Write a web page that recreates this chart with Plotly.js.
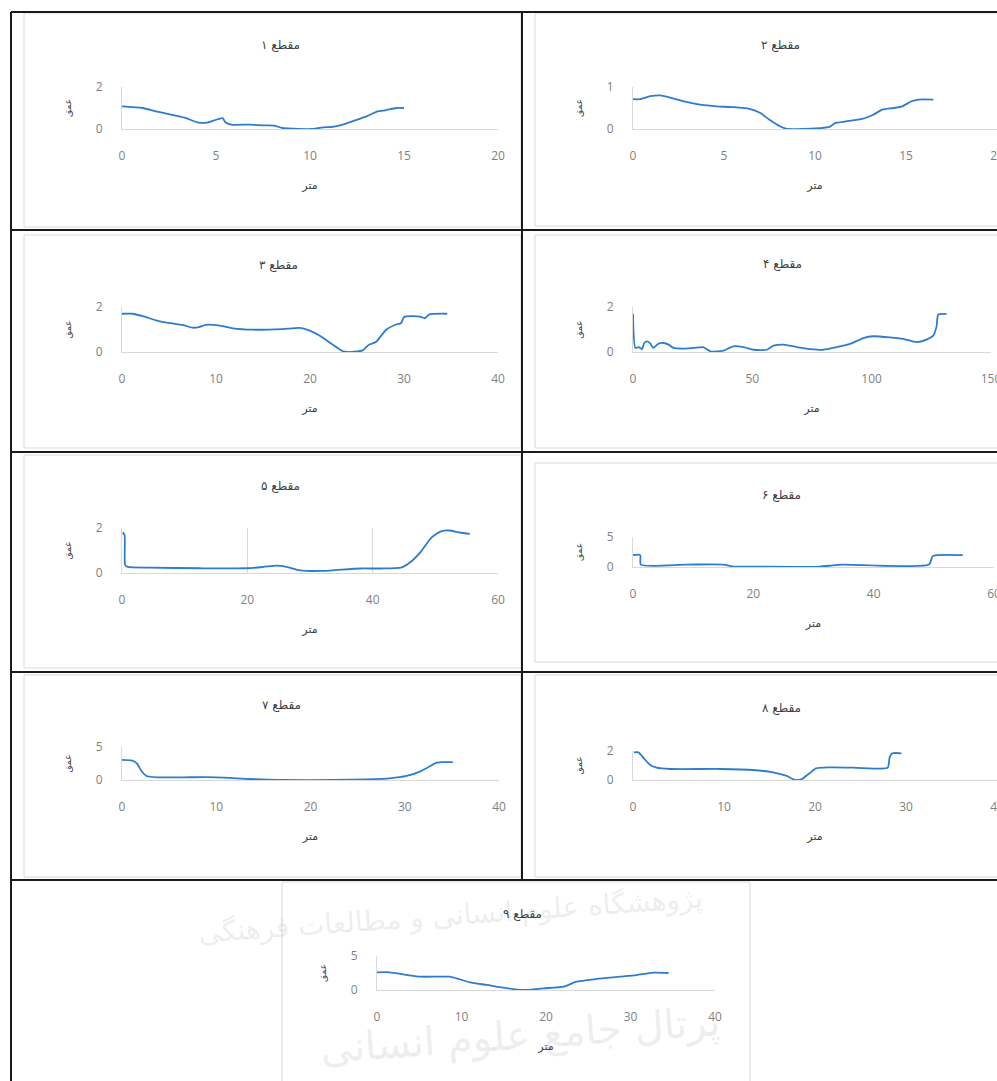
<!DOCTYPE html>
<html>
<head>
<meta charset="utf-8">
<script src="https://cdn.plot.ly/plotly-3.0.1.min.js"></script>
<style>html,body{margin:0;padding:0;background:#fff;}#chart{width:997px;height:1081px;}</style>
</head>
<body>
<div id="chart"></div>
<script>
// ---- Data (distance in متر, depth) ----
const titles = ['مقطع ۱','مقطع ۲','مقطع ۳','مقطع ۴','مقطع ۵','مقطع ۶','مقطع ۷','مقطع ۸','مقطع ۹'];
const xTitle = 'متر';
const yTitle = 'عمق';

const x1 = [0,1.1,1.8,2.9,3.4,4.0,4.5,4.9,5.35,5.5,5.8,6.8,7.65,8.1,8.5,9.4,10.1,10.7,11.2,11.7,12.4,13.0,13.6,14.0,14.6,15.0];
const y1 = [1.08,1.0,0.84,0.63,0.52,0.32,0.30,0.41,0.52,0.32,0.21,0.21,0.17,0.16,0.05,0.0,0.0,0.08,0.1,0.2,0.41,0.6,0.84,0.89,1.0,1.0];

const x2 = [0,0.4,0.95,1.5,1.95,2.8,3.7,4.6,5.5,6.4,7.0,7.5,8.1,8.4,9.35,10.25,10.8,11.1,11.7,12.6,13.2,13.7,14.3,14.8,15.3,15.7,16.5];
const y2 = [0.71,0.71,0.78,0.80,0.76,0.66,0.58,0.54,0.52,0.48,0.38,0.22,0.06,0.01,0.0,0.02,0.05,0.14,0.18,0.24,0.34,0.46,0.5,0.54,0.66,0.70,0.70];

const x3 = [0,1.1,2.2,3.6,5.0,6.5,7.5,8.2,8.9,10.4,11.8,13.9,17.1,18.9,19.9,21.0,22.4,23.5,24.0,24.7,25.6,26.3,27.0,28.1,29.1,29.7,30.0,30.9,31.8,32.2,32.7,34.6];
const y3 = [1.70,1.70,1.59,1.41,1.29,1.19,1.08,1.11,1.21,1.17,1.05,0.99,1.02,1.07,0.96,0.73,0.33,0.03,0.0,0.01,0.07,0.33,0.44,0.99,1.21,1.29,1.56,1.59,1.56,1.50,1.67,1.70];

const x4 = [0,1.0,2.4,3.8,4.7,5.9,7.3,8.4,9.3,10.7,12.8,14.9,17.0,21.2,25.4,29.6,32.4,37.9,42.1,46.3,50.5,56.1,58.9,63.0,68.6,74.2,79.8,85.4,90.9,96.5,100.7,107.7,113.2,118.8,123.0,125.8,127.2,127.9,131.4];
const y4 = [1.70,0.18,0.22,0.13,0.40,0.47,0.37,0.18,0.25,0.37,0.40,0.33,0.18,0.15,0.18,0.21,0.03,0.06,0.25,0.22,0.10,0.10,0.28,0.33,0.22,0.13,0.10,0.22,0.36,0.62,0.70,0.65,0.58,0.44,0.55,0.73,1.14,1.66,1.69];

const x5 = [0.1,0.4,0.5,0.9,4.4,12.4,19.9,22.6,24.7,26.3,28.4,31.7,34.9,38.1,41.3,44.5,46.1,47.7,49.3,50.9,52.2,53.9,55.5];
const y5 = [1.80,1.70,0.35,0.27,0.24,0.21,0.21,0.27,0.33,0.27,0.12,0.09,0.15,0.20,0.20,0.24,0.50,0.95,1.55,1.85,1.89,1.80,1.74];

const x6 = [0,1.2,1.3,8.9,15.0,16.7,20.0,31.0,33.2,34.9,49.2,49.8,50.6,54.8];
const y6 = [1.99,1.99,0.40,0.40,0.40,0.06,0.06,0.06,0.28,0.40,0.40,1.82,1.99,1.99];

const x7 = [0,1.0,1.55,2.1,2.6,3.7,6.5,10.0,13.6,17.1,22.4,25.9,28.4,30.2,31.6,32.6,33.4,34.1,35.1];
const y7 = [3.06,2.96,2.55,1.28,0.61,0.41,0.41,0.41,0.15,0.0,0.0,0.10,0.26,0.61,1.28,2.04,2.65,2.70,2.70];

const x8 = [0.1,0.6,1.2,1.9,2.6,4.1,9.6,13.2,15.4,16.9,17.8,18.5,19.4,20.1,21.6,24.2,27.1,28.0,28.2,28.5,29.5];
const y8 = [1.91,1.91,1.49,1.03,0.85,0.76,0.76,0.69,0.53,0.28,0.0,0.05,0.46,0.80,0.87,0.85,0.78,0.85,1.56,1.84,1.84];

const x9 = [0,1.5,3.1,5.1,8.6,9.4,11.0,13.0,14.9,17.3,19.7,22.1,23.6,26.0,28.8,30.7,32.7,34.5];
const y9 = [2.6,2.6,2.3,1.96,1.96,1.72,1.13,0.74,0.34,0.0,0.25,0.49,1.23,1.62,1.96,2.2,2.55,2.5];

const xs = [x1,x2,x3,x4,x5,x6,x7,x8,x9];
const ys = [y1,y2,y3,y4,y5,y6,y7,y8,y9];
const xRanges = [[0,20],[0,20],[0,40],[0,150],[0,60],[0,60],[0,40],[0,40],[0,40]];
const yRanges = [[0,2],[0,1],[0,2],[0,2],[0,2],[0,5],[0,5],[0,2],[0,5]];
const xDticks = [5,5,10,50,20,20,10,10,10];
const yDticks = [2,1,2,2,2,5,5,2,5];

// ---- Layout geometry (pixels) ----
const W = 997, H = 1081;
const px = v => v / W;
const py = v => 1 - v / H;
// plot areas: [left, right, top, bottom]
const boxes = [
  [122,498,87,129],[633,997,87,129],
  [122,498,307,352],[633,991,307,352],
  [122,498,528,573],[633,994,537,567],
  [122,499,747,780],[633,997,751,780],
  [377,715,956,990]
];
const titlePos = [[280,45],[780,45],[278,265],[782,264],[280,486],[781,495],[281,705],[781,708],[522,914]];
const frames = [
  [24,13,521,227],[535,13,1000,226],
  [24,235,521,448],[535,235,1000,448],
  [24,455,521,668],[535,463,1000,662],
  [24,675,521,877],[535,675,1000,877],
  [282,882,750,1090]
];

const grey = '#d9d9d9';
const tickFont = {family:'Open Sans, Liberation Sans, sans-serif', size:12, color:'#7f7f7f'};
const arFont = {family:'DejaVu Sans, sans-serif', size:11, color:'#404040'};

const data = [];
const layout = {
  width: W, height: H,
  margin: {l:0,r:0,t:0,b:0},
  paper_bgcolor:'#ffffff', plot_bgcolor:'rgba(0,0,0,0)',
  showlegend:false,
  shapes: [], annotations: []
};

// chart frames
frames.forEach(f => {
  layout.shapes.push({type:'rect', xref:'paper', yref:'paper', x0:px(f[0]), x1:px(f[2]), y0:py(f[3]), y1:py(f[1]),
    line:{color:grey, width:1}, fillcolor:'rgba(0,0,0,0)', layer:'below'});
});

// table borders
const hLines = [12,230,452,672,880];
hLines.forEach(y => layout.shapes.push({type:'line', xref:'paper', yref:'paper', x0:px(11), x1:px(997), y0:py(y), y1:py(y), line:{color:'#1a1a1a', width:2}}));
layout.shapes.push({type:'line', xref:'paper', yref:'paper', x0:px(11), x1:px(11), y0:py(12), y1:py(1081), line:{color:'#1a1a1a', width:2}});
layout.shapes.push({type:'line', xref:'paper', yref:'paper', x0:px(522), x1:px(522), y0:py(12), y1:py(880), line:{color:'#1a1a1a', width:2}});

for (let i = 0; i < 9; i++) {
  const n = i === 0 ? '' : String(i+1);
  const b = boxes[i];
  data.push({
    x: xs[i], y: ys[i], type:'scatter', mode:'lines',
    xaxis:'x'+n, yaxis:'y'+n,
    line:{color:'#2e7ccc', width:1.8, shape:'spline', smoothing:0.6},
    hoverinfo:'x+y'
  });
  layout['xaxis'+n] = {
    domain:[px(b[0]), px(b[1])], anchor:'y'+n, range:xRanges[i], dtick:xDticks[i], tick0:0,
    showgrid: i === 4, gridcolor:grey, gridwidth:1,
    showline:true, linecolor:grey, linewidth:1, zeroline:false,
    ticks:'', tickfont:tickFont, ticklabelstandoff:16, ticklabeloverflow:'allow', fixedrange:true,
    title:{text:xTitle, font:arFont, standoff:17}
  };
  layout['yaxis'+n] = {
    domain:[py(b[3]), py(b[2])], anchor:'x'+n, range:yRanges[i], dtick:yDticks[i], tick0:0,
    showgrid:true, gridcolor:grey, gridwidth:1,
    showline:true, linecolor:grey, linewidth:1, zeroline:false,
    ticks:'', tickfont:tickFont, ticklabelstandoff:16, ticklabeloverflow:'allow', fixedrange:true,
    title:{text:yTitle, font:{family:'DejaVu Sans, sans-serif', size:9, color:'#404040'}, standoff:22}
  };
  layout.annotations.push({text:titles[i], xref:'paper', yref:'paper', x:px(titlePos[i][0]), y:py(titlePos[i][1]),
    xanchor:'center', yanchor:'middle', showarrow:false, font:{family:'DejaVu Sans, sans-serif', size:12, color:'#404040'}});
}

// faint watermark text
layout.annotations.push({text:'پژوهشگاه علوم انسانی و مطالعات فرهنگی', xref:'paper', yref:'paper', x:px(450), y:py(915),
  xanchor:'center', yanchor:'middle',
  showarrow:false, textangle:-4, font:{family:'DejaVu Sans, sans-serif', size:28, color:'rgba(120,120,120,0.15)'}});
layout.annotations.push({text:'پرتال جامع علوم انسانی', xref:'paper', yref:'paper', x:px(520), y:py(1035),
  xanchor:'center', yanchor:'middle',
  showarrow:false, textangle:-4, font:{family:'DejaVu Sans, sans-serif', size:40, color:'rgba(120,120,120,0.15)'}});

Plotly.newPlot('chart', data, layout, {staticPlot:true, displayModeBar:false});
</script>
</body>
</html>
